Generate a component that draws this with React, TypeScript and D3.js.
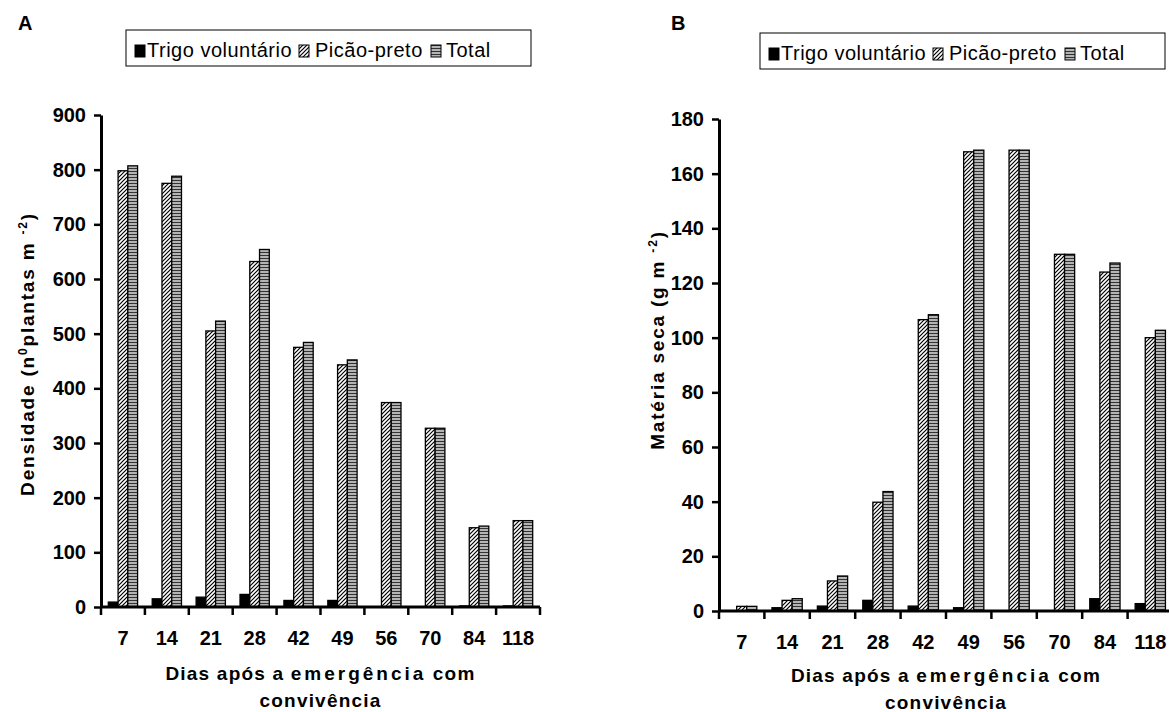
import React, { useRef, useEffect } from 'react';
import * as d3 from 'd3';

// Days after emergence (x categories)
const days = ['7', '14', '21', '28', '42', '49', '56', '70', '84', '118'];
const seriesNames = ['Trigo voluntário', 'Picão-preto', 'Total'];

// Panel A: density (plants m-2)
const densityTrigo = [9, 15, 18, 23, 12, 12, 0, 0, 2, 2];
const densityPicao = [798, 775, 505, 632, 475, 443, 374, 327, 145, 158];
const densityTotal = [807, 788, 523, 654, 484, 452, 374, 327, 148, 158];
const densityTicks = [0, 100, 200, 300, 400, 500, 600, 700, 800, 900];

// Panel B: dry matter (g m-2)
const drymatterTrigo = [0, 1.2, 1.8, 3.9, 1.8, 1.2, 0, 0, 4.5, 2.7];
const drymatterPicao = [1.7, 3.9, 11, 39.8, 106.6, 168, 168.6, 130.5, 124, 100];
const drymatterTotal = [1.7, 4.5, 12.8, 43.7, 108.4, 168.6, 168.6, 130.5, 127.3, 102.7];
const drymatterTicks = [0, 20, 40, 60, 80, 100, 120, 140, 160, 180];

const FONT = '"Liberation Sans", Arial, sans-serif';
const fills = ['#000', 'url(#hatch)', 'url(#stripes)'];

interface Panel {
  letter: string;
  letterX: number;
  left: number;
  step: number;
  zero: number;
  top: number;
  ticks: number[];
  values: number[][];
  legendX: number;
  legendY: number;
  yTitle: string[];
  yTitleX: number;
  yTitleY: number;
  titleY: number;
}

const panels: Panel[] = [
  {
    letter: 'A', letterX: 18, left: 101, step: 43.9, zero: 607, top: 115,
    ticks: densityTicks, values: [densityTrigo, densityPicao, densityTotal],
    legendX: 126, legendY: 30,
    yTitle: ['Densidade (n', '0', 'plantas m ', '-2', ')'], yTitleX: 34, yTitleY: 354,
    titleY: 680,
  },
  {
    letter: 'B', letterX: 671, left: 719, step: 45.4, zero: 611, top: 119,
    ticks: drymatterTicks, values: [drymatterTrigo, drymatterPicao, drymatterTotal],
    legendX: 760, legendY: 33,
    yTitle: ['Matéria seca (g m  ', '-2', ')'], yTitleX: 664, yTitleY: 340,
    titleY: 682,
  },
];

function drawPanel(svg: d3.Selection<SVGSVGElement, unknown, null, undefined>, p: Panel) {
  const g = svg.append('g');
  const x = d3.scaleBand().domain(days).range([p.left, p.left + p.step * days.length]).padding(0);
  const y = d3.scaleLinear().domain([0, p.ticks[p.ticks.length - 1]]).range([p.zero, p.top]);
  const inner = d3.scaleBand().domain(seriesNames).range([0, x.bandwidth()]).paddingInner(0).paddingOuter(0.75);

  // bars
  seriesNames.forEach((s, si) => {
    g.append('g')
      .selectAll('rect')
      .data(p.values[si])
      .join('rect')
      .attr('x', (_, i) => (x(days[i]) ?? 0) + (inner(s) ?? 0))
      .attr('y', d => y(d))
      .attr('width', inner.bandwidth())
      .attr('height', d => y(0) - y(d))
      .attr('fill', fills[si])
      .attr('stroke', '#000')
      .attr('stroke-width', 1.3);
  });

  // y axis
  const ya = g.append('g')
    .attr('transform', `translate(${p.left},0)`)
    .call(d3.axisLeft(y).tickValues(p.ticks).tickSize(7).tickSizeOuter(0).tickPadding(8));
  ya.select('.domain').attr('stroke-width', 3);
  ya.selectAll('.tick line').attr('stroke-width', 2.5);
  ya.selectAll('.tick text').attr('font-family', FONT).attr('font-size', 20).attr('font-weight', 'bold').attr('fill', '#000');

  // x axis
  const [x0, x1] = x.range();
  g.append('line').attr('x1', x0).attr('x2', x1).attr('y1', y(0)).attr('y2', y(0))
    .attr('stroke', '#000').attr('stroke-width', 3);
  const bounds = [...days.map(d => x(d) ?? 0), x1];
  g.append('g').selectAll('line').data(bounds).join('line')
    .attr('x1', d => d).attr('x2', d => d)
    .attr('y1', y(0)).attr('y2', y(0) + 8)
    .attr('stroke', '#000').attr('stroke-width', 2.5);
  g.append('g').selectAll('text').data(days).join('text')
    .attr('x', d => (x(d) ?? 0) + x.bandwidth() / 2)
    .attr('y', y(0) + 38)
    .attr('text-anchor', 'middle')
    .attr('font-family', FONT).attr('font-size', 20).attr('font-weight', 'bold')
    .text(d => d);

  // x title (the word "emergência" is spread wider in the original)
  const cx = (x0 + x1) / 2;
  const xt = g.append('text').attr('text-anchor', 'middle')
    .attr('font-family', FONT).attr('font-size', 19).attr('font-weight', 'bold')
    .attr('letter-spacing', 1.2);
  const line1 = xt.append('tspan').attr('x', cx).attr('y', p.titleY);
  line1.append('tspan').text('Dias após a ');
  line1.append('tspan').attr('letter-spacing', 3).text('emergência');
  line1.append('tspan').text(' com');
  xt.append('tspan').attr('x', cx).attr('y', p.titleY + 27).text('convivência');

  // y title
  const yt = g.append('text')
    .attr('transform', `translate(${p.yTitleX},${p.yTitleY}) rotate(-90)`)
    .attr('text-anchor', 'middle')
    .attr('font-family', FONT).attr('font-size', 19).attr('font-weight', 'bold')
    .attr('letter-spacing', 1.8);
  p.yTitle.forEach((t, i) => {
    const sup = i % 2 === 1;
    yt.append('tspan')
      .attr('font-size', sup ? 12 : 19)
      .attr('baseline-shift', sup ? '60%' : '0')
      .text(t);
  });

  // panel letter
  g.append('text').attr('x', p.letterX).attr('y', 30)
    .attr('font-family', FONT).attr('font-size', 20).attr('font-weight', 'bold').text(p.letter);

  // legend
  const lg = g.append('g').attr('transform', `translate(${p.legendX},${p.legendY})`);
  lg.append('rect').attr('width', 405).attr('height', 36).attr('fill', '#fff').attr('stroke', '#000').attr('stroke-width', 1);
  const swatchX = [9, 173, 305];
  const textX = [21, 189, 320];
  seriesNames.forEach((s, si) => {
    lg.append('rect').attr('x', swatchX[si]).attr('y', 15).attr('width', 10).attr('height', 12)
      .attr('fill', fills[si]).attr('stroke', '#000').attr('stroke-width', 1);
    lg.append('text').attr('x', textX[si]).attr('y', 27)
      .attr('font-family', FONT).attr('font-size', 20).attr('letter-spacing', 0.5).text(s);
  });
}

const App: React.FC = () => {
  const ref = useRef<SVGSVGElement>(null);

  useEffect(() => {
    const svg = d3.select(ref.current!);
    svg.selectAll('*').remove();

    const defs = svg.append('defs');
    const hatch = defs.append('pattern').attr('id', 'hatch')
      .attr('patternUnits', 'userSpaceOnUse').attr('width', 4).attr('height', 4);
    hatch.append('rect').attr('width', 4).attr('height', 4).attr('fill', '#fff');
    hatch.append('path').attr('d', 'M-1,1 l2,-2 M0,4 l4,-4 M3,5 l2,-2')
      .attr('stroke', '#000').attr('stroke-width', 1.2);

    const stripes = defs.append('pattern').attr('id', 'stripes')
      .attr('patternUnits', 'userSpaceOnUse').attr('width', 4).attr('height', 3);
    stripes.append('rect').attr('width', 4).attr('height', 3).attr('fill', '#b4b4b4');
    stripes.append('rect').attr('width', 4).attr('height', 1).attr('fill', '#333');

    panels.forEach(p => drawPanel(svg, p));
  }, []);

  return (
    <svg ref={ref} width={1169} height={712}
      style={{ position: 'absolute', left: 0, top: 0, background: '#fff' }} />
  );
};

export default App;
